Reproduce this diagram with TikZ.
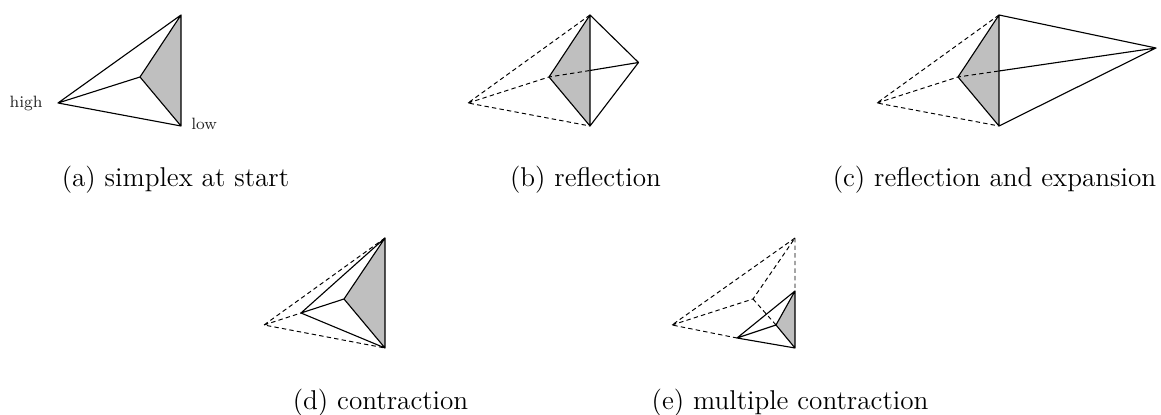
\documentclass[tikz,border=0pt]{standalone}
\tikzset{
  simp/.style={line width=0.56pt,line join=round,line cap=round,black},
  dsh/.style={line width=0.48pt,black,dash pattern=on 2.2pt off 1.6pt},
  greyface/.style={fill=black!25,draw=none},
  captext/.style={anchor=base,font=\fontsize{13.6}{16}\selectfont,inner sep=0pt},
  lab/.style={font=\fontsize{8.2}{10}\selectfont,inner sep=0pt,text=black!85}
}
\begin{document}
\begin{tikzpicture}[x=0.5pt,y=-0.5pt]
\useasboundingbox (0,0) rectangle (1161,415);
% (a)
\coordinate (at) at (181,15); \coordinate (am) at (140,77); \coordinate (al) at (58,103); \coordinate (ab) at (181,126);
\fill[greyface] (at)--(am)--(ab)--cycle;
\draw[simp] (al)--(at)--(ab)--cycle (at)--(am)--(ab) (am)--(al);
\node[lab,anchor=east] (high) at (43,103.5) {high};
\node[lab,anchor=west] (low) at (191,124) {low};
\node[captext] (capa) at (175.5,186.5) {(a) simplex at start};
% (b)
\coordinate (bt) at (590,15); \coordinate (bm) at (549,77); \coordinate (bl) at (468,103); \coordinate (bb) at (590,126); \coordinate (br) at (638.5,62.5); \coordinate (bx) at (590,70.5);
\fill[greyface] (bt)--(bm)--(bb)--cycle;
\draw[dsh] (bt)--(bl)--(bb) (bl)--(bm)--(bx);
\draw[simp] (bt)--(bm)--(bb)--cycle (bt)--(br)--(bb) (bx)--(br);
\node[captext] (capb) at (585.5,186.5) {(b) reflection};
% (c)
\coordinate (ct) at (999,15); \coordinate (cm) at (958,77); \coordinate (cl) at (877,103); \coordinate (cb) at (999,126); \coordinate (cr) at (1156,48); \coordinate (cx) at (999,71);
\fill[greyface] (ct)--(cm)--(cb)--cycle;
\draw[dsh] (ct)--(cl)--(cb) (cl)--(cm)--(cx);
\draw[simp] (ct)--(cm)--(cb)--cycle (ct)--(cr)--(cb) (cx)--(cr);
\node[captext] (capc) at (994.5,186.5) {(c) reflection and expansion};
% (d)
\coordinate (dt) at (385,238); \coordinate (dm) at (344,299); \coordinate (dl) at (264,325); \coordinate (db) at (385,348); \coordinate (di) at (301,313);
\fill[greyface] (dt)--(dm)--(db)--cycle;
\draw[dsh] (dt)--(dl)--(db) (dl)--(di);
\draw[simp] (dt)--(db) (dt)--(di)--(db) (dt)--(dm)--(db) (dm)--(di);
\node[captext] (capd) at (380.5,410) {(d) contraction};
% (e)
\coordinate (et) at (795,238); \coordinate (em) at (753,299); \coordinate (el) at (672,325); \coordinate (eb) at (795,348); \coordinate (eu) at (795,291); \coordinate (en) at (776,325); \coordinate (ei) at (737,338);
\fill[greyface] (eu)--(en)--(eb)--cycle;
\draw[dsh] (et)--(el)--(ei) (el)--(em)--(et) (em)--(en) (et)--(eu);
\draw[simp] (eu)--(eb) (eu)--(ei)--(eb) (eu)--(en)--(eb) (en)--(ei);
\node[captext] (cape) at (790,410) {(e) multiple contraction};
\end{tikzpicture}
\end{document}
